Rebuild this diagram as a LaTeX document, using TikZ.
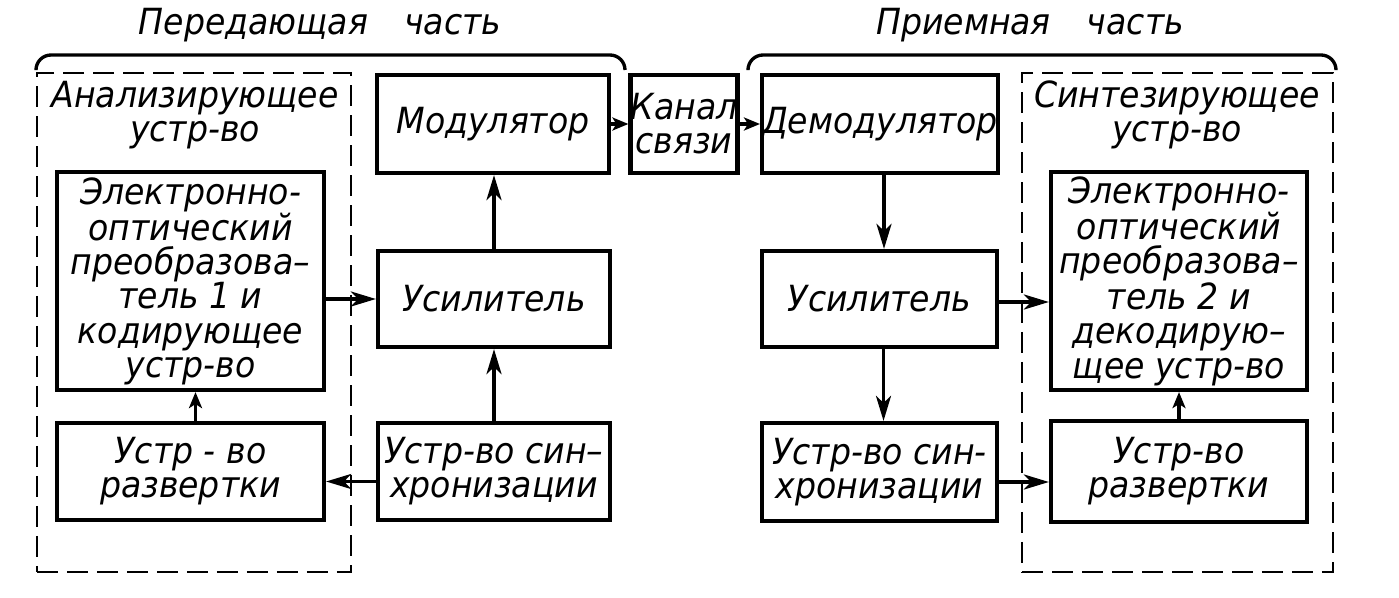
\documentclass[tikz,border=0pt]{standalone}
\usepackage{fontspec}
\setmainfont{DejaVu Sans}[FakeStretch=0.92]
\usetikzlibrary{arrows.meta,positioning}
\newcommand{\blockfont}{\itshape\fontsize{20.5}{19.4}\selectfont}
\tikzset{
    block/.style={draw, line width=2.4pt, inner sep=0pt, align=center, font=\blockfont},
    groupbox/.style={draw, line width=1.4pt, dash pattern=on 0.42cm off 0.18cm, inner sep=0pt},
    link/.style={line width=2pt, -{Stealth[length=0.5cm, width=0.3cm, inset=0.14cm]}},
    shortlink/.style={line width=2pt, -{Stealth[length=0.32cm, width=0.26cm, inset=0.08cm]}},
    brace/.style={line width=1.9pt, rounded corners=0.3cm},
    caption/.style={inner sep=0pt, align=center, font=\blockfont},
}

\begin{document}
\begin{tikzpicture}[x=0.02cm, y=-0.02cm]
    \useasboundingbox (0,0) rectangle (1399,598);

    % Titles and braces
    \node[caption] (tx title) at (320,25) {Передающая\quad часть};
    \node[caption] (rx title) at (1030,25) {Приемная\quad часть};
    \draw[brace] (36,68) -- (36,55) -- (625,55) -- (625,70);
    \draw[brace] (748,68) -- (748,55) -- (1336,55) -- (1336,68);

    % Analyzing device
    \node[groupbox, minimum width=6.28cm, minimum height=9.98cm] (analyzer) at (194,322.5) {};
    \node[caption] (analyzer label) at (195,115) {Анализирующее\\устр-во};
    \node[block, minimum width=5.34cm, minimum height=4.36cm] (eop1) at (190.5,281)
        {Электронно-\\оптический\\преобразова--\\тель 1 и\\кодирующее\\устр-во};
    \node[block, minimum width=5.34cm, minimum height=1.94cm] (scan1) at (190.5,471.5) {Устр - во\\развертки};

    % Transmitter chain
    \node[block, minimum width=4.64cm, minimum height=1.96cm] (mod) at (493,124) {Модулятор};
    \node[block, minimum width=4.64cm, minimum height=1.92cm] (amp1) at (494,299) {Усилитель};
    \node[block, minimum width=4.64cm, minimum height=1.94cm] (sync1) at (494,471.5) {Устр-во син--\\хронизации};

    % Channel
    \node[block, minimum width=1.96cm, minimum height=1.96cm] (chan) at (684,124) {Канал\\связи};

    % Receiver chain
    \node[block, minimum width=4.68cm, minimum height=1.96cm] (demod) at (880,124) {Демодулятор};
    \node[block, minimum width=4.70cm, minimum height=1.92cm] (amp2) at (879.5,299) {Усилитель};
    \node[block, minimum width=4.70cm, minimum height=1.96cm] (sync2) at (879.5,472) {Устр-во син-\\хронизации};

    % Synthesizing device
    \node[groupbox, minimum width=6.22cm, minimum height=9.98cm] (synthesizer) at (1177.5,322.5) {};
    \node[caption] (synthesizer label) at (1177,115) {Синтезирующее\\устр-во};
    \node[block, minimum width=5.12cm, minimum height=4.36cm] (eop2) at (1179,281)
        {Электронно-\\оптический\\преобразова--\\тель 2 и\\декодирую--\\щее устр-во};
    \node[block, minimum width=5.12cm, minimum height=2.02cm] (scan2) at (1179,471.5) {Устр-во\\развертки};

    % Transmitter links
    \draw[link] (eop1.east |- amp1.west) -- (amp1.west);
    \draw[link] (amp1.north) -- (amp1.north |- mod.south);
    \draw[link] (sync1.north) -- (amp1.south);
    \draw[link] ([yshift=-0.2cm]sync1.west) -- ([yshift=-0.2cm]sync1.west -| scan1.east);
    \draw[shortlink] ([xshift=0.1cm]scan1.north) -- ([xshift=0.1cm]eop1.south);

    % Channel links
    \draw[shortlink] (mod.east) -- (chan.west);
    \draw[shortlink] (chan.east) -- (demod.west);

    % Receiver links
    \draw[link] ([xshift=0.08cm]demod.south) -- ([xshift=0.08cm]demod.south |- amp2.north);
    \draw[link] ([yshift=-0.06cm]amp2.east) -- ([yshift=-0.06cm]amp2.east -| eop2.west);
    \draw[link] ([xshift=0.08cm]amp2.south) -- ([xshift=0.08cm]amp2.south |- sync2.north);
    \draw[link] ([yshift=-0.2cm]sync2.east) -- ([yshift=-0.2cm]sync2.east -| scan2.west);
    \draw[shortlink] (scan2.north) -- (eop2.south);
\end{tikzpicture}
\end{document}
